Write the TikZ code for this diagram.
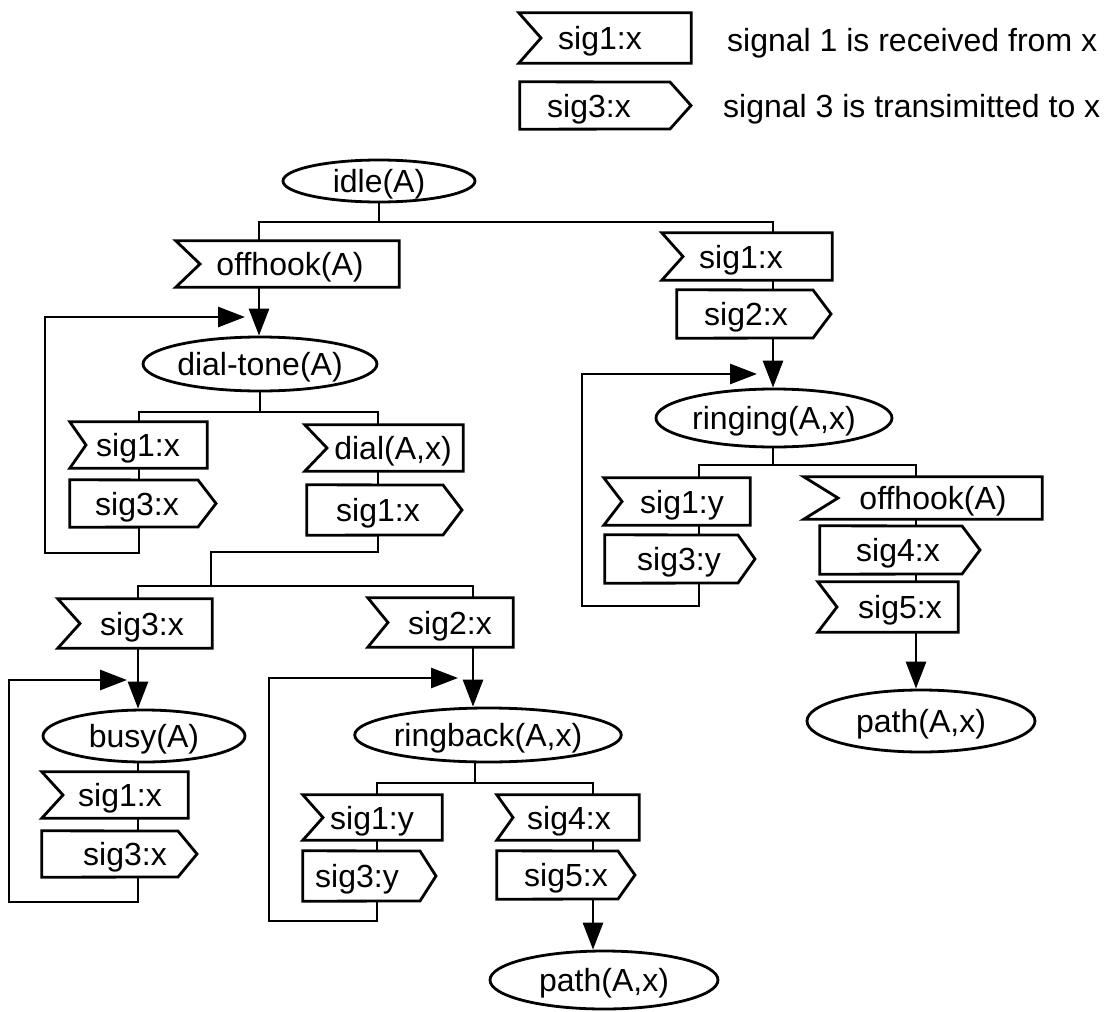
\documentclass[tikz,border=0pt]{standalone}
\usepackage{fontspec}
\setmainfont{Liberation Sans}
\usetikzlibrary{shapes.geometric,arrows.meta,fit}

\tikzset{
  shp/.style={line width=2.8pt, line join=miter},
  conn/.style={line width=2.8pt},
  arr/.style={conn, -{Triangle[length=27pt,width=20pt]}},
  lbl/.style={inner sep=0pt, font=\fontsize{32}{38}\selectfont, text height=23pt, text depth=0pt},
  ell/.style={ellipse, draw, line width=2.8pt, inner sep=0pt, font=\fontsize{32}{38}\selectfont, text height=23pt, text depth=0pt},
  frame/.style={inner sep=0pt, draw=none},
  legend/.style={anchor=west, inner sep=0pt, font=\fontsize{32}{38}\selectfont, text height=23pt, text depth=0pt}
}

% receive box: name, x1, x2, y1, y2, notch x, text x, text
\newcommand\rcv[8]{%
  \node[frame, fit={(#2,#4)(#3,#5)}] (#1) {};
  \draw[shp] (#1.north west) -- (#1.north east) -- (#1.south east) -- (#1.south west) -- ({#6},{(#4+#5)/2}) -- cycle;
  \node[lbl] (#1-t) at ({#7},{(#4+#5)/2}) {#8};
}
% send box: name, x1, x straight end, x tip, y1, y2, text x, text
\newcommand\snd[8]{%
  \node[frame, fit={(#2,#5)(#4,#6)}] (#1) {};
  \draw[shp] (#1.north west) -- ({#3},{#5}) -- ({#4},{(#5+#6)/2}) -- ({#3},{#6}) -- (#1.south west) -- cycle;
  \node[lbl] (#1-t) at ({#7},{(#5+#6)/2}) {#8};
}

\begin{document}
\begin{tikzpicture}[x=1pt,y=-1pt]
\useasboundingbox (0,0) rectangle (1112,1012);

% ---------------- legend ----------------
\rcv{legR}{519}{691}{13}{63}{541}{600}{sig1:x}
\node[legend] (legRt) at (727,40) {signal 1 is received from x};
\snd{legS}{520}{670}{691}{82}{129}{589}{sig3:x}
\node[legend] (legSt) at (723,106) {signal 3 is transimitted to x};

% ---------------- states ----------------
\node[ell, minimum width=192pt, minimum height=42pt] (idle) at (379,181) {idle(A)};
\node[ell, minimum width=216pt, minimum height=54pt] (dialtone) at (260,364) {dial-tone(A)};
\node[ell, minimum width=202pt, minimum height=52pt] (busy) at (144,736) {busy(A)};
\node[ell, minimum width=238pt, minimum height=54pt] (ringback) at (488,735) {ringback(A,x)};
\node[ell, minimum width=228pt, minimum height=58pt] (pathE) at (604,980) {path(A,x)};
\node[ell, minimum width=236pt, minimum height=58pt] (ringing) at (774,418) {ringing(A,x)};
\node[ell, minimum width=228pt, minimum height=62pt] (pathF) at (921,721) {path(A,x)};

% ---------------- signal boxes ----------------
\rcv{offhookA}{176}{399}{241}{287}{200}{290}{offhook(A)}
\rcv{sigRa}{662}{832}{233}{280}{683}{741}{sig1:x}
\snd{sigRb}{677}{813}{831}{290}{338}{746}{sig2:x}

\rcv{sigAa}{70}{207}{422}{468}{86}{138}{sig1:x}
\snd{sigAb}{70}{198}{216}{480}{527}{137}{sig3:x}
\rcv{dialAx}{305}{463}{425}{471}{327}{393}{dial(A,x)}
\snd{sigBb}{307}{443}{462}{485}{535}{378}{sig1:x}

\rcv{sigCa}{58}{212}{599}{648}{80}{142}{sig3:x}
\rcv{sigCb}{368}{513}{598}{647}{388}{450}{sig2:x}

\rcv{sigDa}{42}{188}{772}{818}{63}{120}{sig1:x}
\snd{sigDb}{42}{178}{197}{831}{877}{125}{sig3:x}

\rcv{sigEa}{303}{442}{795}{840}{323}{372}{sig1:y}
\snd{sigEb}{303}{420}{436}{851}{901}{357}{sig3:y}
\rcv{sigEc}{497}{639}{795}{840}{513}{569}{sig4:x}
\snd{sigEd}{497}{618}{635}{851}{899}{566}{sig5:x}

\rcv{sigFa}{604}{750}{478}{525}{622}{682}{sig1:y}
\snd{sigFb}{605}{738}{755}{535}{583}{679}{sig3:y}
\rcv{offhookF}{804}{1042}{477}{519}{838}{933}{offhook(A)}
\snd{sigFd}{820}{962}{980}{526}{574}{898}{sig4:x}
\rcv{sigFe}{818}{958}{582}{632}{837}{900}{sig5:x}

% ---------------- junction coordinates ----------------
\coordinate (j0)   at (379,222);
\coordinate (jL)   at (259,222);
\coordinate (jR)   at (773,222);
\coordinate (jD0)  at (260,412);
\coordinate (jDL)  at (139,412);
\coordinate (jDR)  at (378,412);
\coordinate (jM)   at (211,552);
\coordinate (jB0)  at (211,586);
\coordinate (jBL)  at (138,586);
\coordinate (jBR)  at (473,586);
\coordinate (jE0)  at (475,783);
\coordinate (jEL)  at (377,783);
\coordinate (jER)  at (593,783);
\coordinate (jF0)  at (773,465);
\coordinate (jFL)  at (699,465);
\coordinate (jFR)  at (916,465);
\coordinate (lp1a) at (45,553);
\coordinate (lp1b) at (245,317);
\coordinate (lp2a) at (9,902);
\coordinate (lp2b) at (127,680);
\coordinate (lp3a) at (269,921);
\coordinate (lp3b) at (458,678);
\coordinate (lp4a) at (582,606);
\coordinate (lp4b) at (757,374);

% ---------------- connectors ----------------
% idle
\draw[conn] (idle.south -| j0) -- (j0);
\draw[conn] (offhookA.north -| jL) -- (jL) -- (jR) -- (sigRa.north -| jR);
\draw[arr] (offhookA.south -| jL) -- (dialtone.north -| jL);

% dial-tone
\draw[conn] (dialtone.south -| jD0) -- (jD0);
\draw[conn] (sigAa.north -| jDL) -- (jDL) -- (jDR) -- (dialAx.north -| jDR);
\draw[conn] (sigAa.south -| jDL) -- (sigAb.north -| jDL);
\draw[arr] (sigAb.south -| jDL) |- (lp1a) |- (lp1b);
\draw[conn] (dialAx.south -| jDR) -- (sigBb.north -| jDR);
\draw[conn] (sigBb.south -| jDR) |- (jM) -- (jB0);
\draw[conn] (sigCa.north -| jBL) -- (jBL) -- (jBR) -- (sigCb.north -| jBR);

% busy
\draw[arr] (sigCa.south -| jBL) -- (busy.north -| jBL);
\draw[conn] (busy.south -| jBL) -- (sigDa.north -| jBL);
\draw[conn] (sigDa.south -| jBL) -- (sigDb.north -| jBL);
\draw[arr] (sigDb.south -| jBL) |- (lp2a) |- (lp2b);

% ringback
\draw[arr] (sigCb.south -| jBR) -- (ringback.north -| jBR);
\draw[conn] (ringback.south -| jE0) -- (jE0);
\draw[conn] (sigEa.north -| jEL) -- (jEL) -- (jER) -- (sigEc.north -| jER);
\draw[conn] (sigEa.south -| jEL) -- (sigEb.north -| jEL);
\draw[arr] (sigEb.south -| jEL) |- (lp3a) |- (lp3b);
\draw[conn] (sigEc.south -| jER) -- (sigEd.north -| jER);
\draw[arr] (sigEd.south -| jER) -- (pathE.north -| jER);

% ringing
\draw[conn] (sigRa.south -| jR) -- (sigRb.north -| jR);
\draw[arr] (sigRb.south -| jR) -- (ringing.north -| jR);
\draw[conn] (ringing.south -| jF0) -- (jF0);
\draw[conn] (sigFa.north -| jFL) -- (jFL) -- (jFR) -- (offhookF.north -| jFR);
\draw[conn] (sigFa.south -| jFL) -- (sigFb.north -| jFL);
\draw[arr] (sigFb.south -| jFL) |- (lp4a) |- (lp4b);
\draw[conn] (offhookF.south -| jFR) -- (sigFd.north -| jFR);
\draw[conn] (sigFd.south -| jFR) -- (sigFe.north -| jFR);
\draw[arr] (sigFe.south -| jFR) -- (pathF.north -| jFR);
\end{tikzpicture}
\end{document}
